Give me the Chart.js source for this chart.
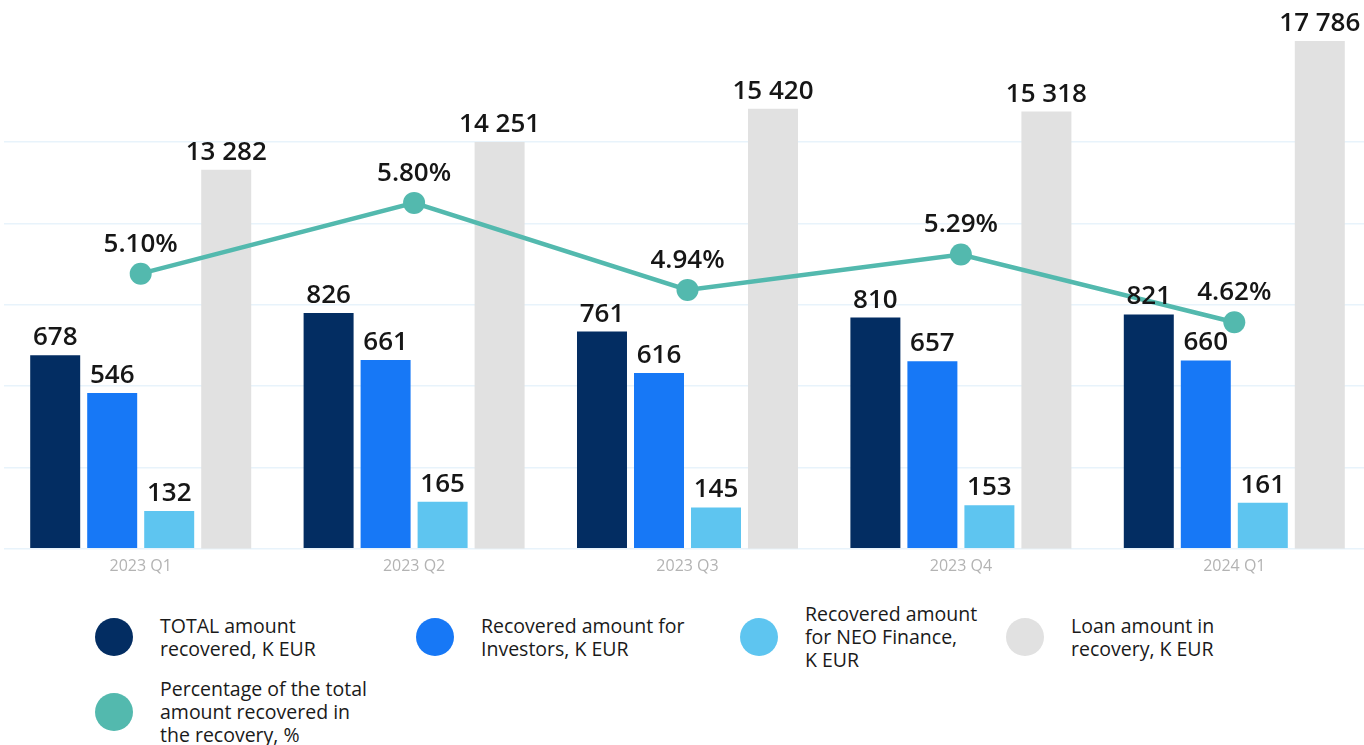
<!DOCTYPE html>
<html>
<head>
  <meta charset="utf-8" />
  <title>Recovery statistics</title>
  <script src="https://cdn.jsdelivr.net/npm/chart.js"></script>
  <style>
    html, body { margin: 0; padding: 0; overflow: hidden; background: #fff; font-family: "Open Sans", sans-serif; }
    #wrap { position: relative; width: 1364px; height: 745px; overflow: hidden; }
    #recovery { display: block; }
    #legend {
      position: absolute; left: 95px; top: 602px;
      display: grid; grid-template-columns: 321px 324px 266px 300px;
      grid-auto-rows: 69px; row-gap: 6px;
    }
    .item { display: flex; align-items: center; }
    .dot { width: 38px; height: 38px; border-radius: 50%; flex: none; margin-right: 27px; }
    .text { font-size: 19.5px; line-height: 23px; color: #1a1a1a; white-space: nowrap; }
  </style>
</head>

<body>
  <div id="wrap">
    <canvas id="recovery" width="1372" height="584"></canvas>
    <div id="legend"></div>
  </div>

<script>
  const quarters = ["2023 Q1", "2023 Q2", "2023 Q3", "2023 Q4", "2024 Q1"];
  const totalRecovered = [678, 826, 761, 810, 821];
  const investorsRecovered = [546, 661, 616, 657, 660];
  const neoRecovered = [132, 165, 145, 153, 161];
  const loanInRecovery = [13282, 14251, 15420, 15318, 17786];
  const recoveryRate = [5.10, 5.80, 4.94, 5.29, 4.62];

  const seriesNames = [
    ["TOTAL amount", "recovered, K EUR"],
    ["Recovered amount for", "Investors, K EUR"],
    ["Recovered amount", "for NEO Finance,", "K EUR"],
    ["Loan amount in", "recovery, K EUR"],
    ["Percentage of the total", "amount recovered in", "the recovery, %"],
  ];
  const seriesColors = ["#032d62", "#1778f6", "#5ec5f0", "#e1e1e1", "#53b9ae"];

  const GRID_STEP = 285;
  const GRID_LINES = 5;

  const fmt = (v) => String(v).replace(/\B(?=(\d{3})+(?!\d))/g, " ");

  // numbers above every bar and point
  const valueLabels = {
    id: "valueLabels",
    afterDatasetsDraw(chart) {
      const ctx = chart.ctx;
      ctx.save();
      ctx.fillStyle = "#161616";
      ctx.font = '600 26px "Open Sans"';
      ctx.textAlign = "center";
      ctx.textBaseline = "alphabetic";
      chart.data.datasets.forEach((ds, i) => {
        const meta = chart.getDatasetMeta(i);
        const isLine = ds.type === "line";
        meta.data.forEach((el, j) => {
          const text = isLine ? ds.data[j].toFixed(2) + "%" : fmt(ds.data[j]);
          ctx.fillText(text, el.x, el.y - (isLine ? 22 : 10));
        });
      });
      ctx.restore();
    },
  };

  const bar = (idx, data, axis) => ({
    type: "bar",
    label: seriesNames[idx].join(" "),
    data: data,
    backgroundColor: seriesColors[idx],
    yAxisID: axis,
    order: 1,
    categoryPercentage: 0.834,
    barPercentage: 0.877,
  });

  new Chart(document.getElementById("recovery"), {
    data: {
      labels: quarters,
      datasets: [
        bar(0, totalRecovered, "y"),
        bar(1, investorsRecovered, "y"),
        bar(2, neoRecovered, "y"),
        bar(3, loanInRecovery, "y2"),
        {
          type: "line",
          label: seriesNames[4].join(" "),
          data: recoveryRate,
          yAxisID: "y3",
          order: 0,
          borderColor: seriesColors[4],
          backgroundColor: seriesColors[4],
          borderWidth: 4.5,
          pointRadius: 11,
          pointBorderWidth: 0,
          pointBackgroundColor: seriesColors[4],
          tension: 0,
        },
      ],
    },
    options: {
      responsive: false,
      animation: false,
      layout: { autoPadding: false, padding: { top: 35, left: 4, right: 1, bottom: 0 } },
      plugins: { legend: { display: false }, tooltip: { enabled: false } },
      scales: {
        x: {
          grid: { display: false, drawTicks: false },
          border: { display: false },
          ticks: { color: "#b3b3b3", font: { family: "Open Sans", size: 16 }, padding: 8 },
        },
        y: {
          min: 0,
          max: 1800,
          afterBuildTicks: (scale) => {
            scale.ticks = Array.from({ length: GRID_LINES + 1 }, (_, i) => ({ value: i * GRID_STEP }));
          },
          ticks: { display: false },
          grid: { color: "#e8f3fb", lineWidth: 1.5, drawTicks: false },
          border: { display: false },
        },
        y2: { display: false, min: 0, max: 18000 },
        y3: { display: false, min: 2.38, max: 7.46 },
      },
    },
    plugins: [valueLabels],
  });

  // legend with wrapped captions
  const legend = document.getElementById("legend");
  seriesNames.forEach((lines, i) => {
    const item = document.createElement("div");
    item.className = "item";
    item.innerHTML = '<span class="dot" style="background:' + seriesColors[i] + '"></span>' +
      '<span class="text">' + lines.join("<br>") + "</span>";
    legend.appendChild(item);
  });
</script>
</body>
</html>
